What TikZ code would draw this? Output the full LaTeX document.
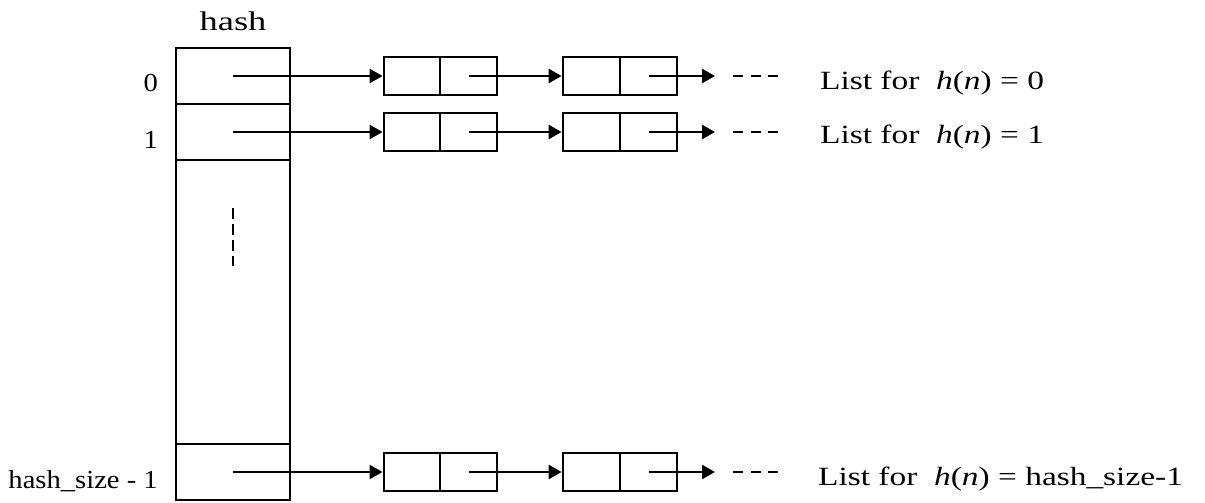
\documentclass[tikz,border=0pt]{standalone}
\usepackage{fontspec}
\setmainfont[FakeStretch=1.27]{Liberation Serif}
\newfontfamily\lblfont[FakeStretch=1.1]{Liberation Serif}
\newfontfamily\ttlfont[FakeStretch=1.35]{Liberation Serif}
\usetikzlibrary{arrows.meta}
\begin{document}
\begin{tikzpicture}[x=1pt,y=-1pt,
  cell/.style={draw,line width=2.8pt,inner sep=0pt,minimum width=114pt},
  half/.style={draw,line width=2.8pt,inner sep=0pt,minimum height=38pt},
  link/.style={line width=2.5pt,-{Triangle[length=13pt,width=14pt]}},
  more/.style={line width=2.5pt,dash pattern=on 10pt off 7.5pt},
  lbl/.style={anchor=base east,font=\lblfont\fontsize{26}{30}\selectfont,inner sep=0pt},
  txt/.style={anchor=base west,font=\fontsize{26.3}{30}\selectfont,inner sep=0pt}]
\useasboundingbox (0,0) rectangle (1205,503);
% hash table cells
\node[cell,minimum height=56pt] (h0) at (233,76) {};
\node[cell,minimum height=56pt] (h1) at (233,132) {};
\node[cell,minimum height=284pt] (hm) at (233,302) {};
\node[cell,minimum height=56pt] (hl) at (233,472) {};
\node[anchor=base,font=\ttlfont\fontsize{27}{30}\selectfont,inner sep=0pt] (title) at (233,31) {hash};
% index labels
\node[lbl] (l0) at (158,92) {0};
\node[lbl] (l1) at (158,148) {1};
\node[lbl] (ll) at (158,488) {hash\_size - 1};
% vertical dots
\coordinate (vt) at (233,208);
\coordinate (vb) at (233,266);
\draw[line width=2.5pt,dash pattern=on 11pt off 5pt] (vt) -- (vb);
% list rows
\foreach \r/\y/\h in {0/76/h0, 1/132/h1, l/472/hl}{
  \node[half,minimum width=56pt] (a\r) at (412,\y) {};
  \node[half,minimum width=57pt] (b\r) at (468.5,\y) {};
  \node[half,minimum width=57pt] (c\r) at (591.5,\y) {};
  \node[half,minimum width=57pt] (d\r) at (648.5,\y) {};
  \coordinate (e\r) at (715,\y);
  \coordinate (f\r) at (733,\y);
  \coordinate (g\r) at (778,\y);
  \draw[link] (\h.center) -- (a\r.west);
  \draw[link] (b\r.center) -- (c\r.west);
  \draw[link] (d\r.center) -- (e\r);
  \draw[more] (f\r) -- (g\r);
}
\node[txt] (t0) at (820,89) {List for\ \ \textit{h}(\textit{n}) = 0};
\node[txt] (t1) at (820,143) {List for\ \ \textit{h}(\textit{n}) = 1};
\node[txt] (tl) at (818,485) {List for\ \ \textit{h}(\textit{n}) = hash\_size-1};
\end{tikzpicture}
\end{document}
